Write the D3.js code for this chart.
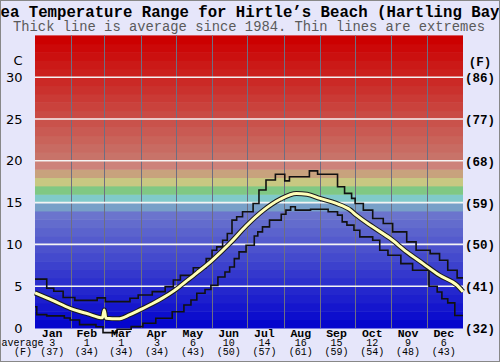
<!DOCTYPE html>
<html>
<head>
<meta charset="utf-8">
<script src="https://cdn.jsdelivr.net/npm/d3@7"></script>
<style>
  body { margin: 0; background: #e6e6fa; }
  svg { display: block; }
</style>
</head>
<body>
<div class="chart"></div>
<script>
// chart values
var months = ["Jan","Feb","Mar","Apr","May","Jun","Jul","Aug","Sep","Oct","Nov","Dec"];
var monthDays = [31,28,31,30,31,30,31,31,30,31,30,31];
var avgC = [3,1,1,3,6,10,14,16,15,12,9,6];
var avgF = [37,34,34,34,43,50,57,61,59,54,48,43];
var cTicks = [0,5,10,15,20,25,30];
var fLabels = [32,41,50,59,68,77,86];

// thick line: average, day of year -> deg C
var avgDays  = [0,15,30,45,57.5,59,60.5,71,81,90,100,109,119,129,138,151,166,180,195,209,223,232,243,257,269,274,288,303,317,331,345,360,365];
var avgTemps = [4.2,3.3,2.35,1.7,1.22,2.15,1.18,1.1,1.6,2.2,2.9,3.6,4.5,5.6,6.6,8.1,10.1,12.2,14.1,15.4,16.1,16.0,15.5,14.9,14.1,13.5,12.1,10.7,9.1,7.7,6.3,5.1,4.35];

// thin lines: extremes, stepped
var maxDays  = [0,10,16,24,34,53,60,81,88,100,111,118,124,135,146,151,155,160,164,168,172,177,186,191,197,205,213,217,234,241,258,264,270,273,280,288,297,305,317,325,337,345,352,360,365];
var maxTemps = [5.85,4.75,4.4,3.65,3.3,3.6,3.15,3.55,3.95,4.35,4.95,5.75,6.3,7.2,8.3,9.3,9.7,10.5,11.3,12.9,13.3,13.9,14.9,16.5,17.7,18.4,17.6,18.1,18.8,18.4,16.9,16.1,15.5,14.9,14.1,13.1,12.5,11.5,10.3,9.3,8.9,8.1,6.9,6.0,6.0];
var minDays  = [0,1.5,10,25,30,38,52,58,70,82,92,103,117,127,133,138,145,150,156,162,166,170,174,180,187,190,194,200,210,214,218,222,235,250,258,262,266,272,277,288,294,301,312,322,336,343,347,352,358,365];
var minTemps = [2.55,1.6,1.45,1.2,0.96,0.4,0.15,-0.55,-0.15,0.16,0.56,1.16,1.95,2.75,3.35,4.15,4.6,5.1,6.1,6.7,7.3,8.3,9.1,9.9,11.0,11.5,12.1,12.9,13.6,14.1,14.5,14.1,14.2,13.9,13.5,12.7,12.3,11.7,10.9,10.5,9.3,8.7,7.7,6.9,5.0,4.3,3.5,3.0,1.5,1.5];

var width = 500, height = 362;
var plot = {left: 35, right: 463, top: 35.4, bottom: 328};

var svg = d3.select(".chart").append("svg")
  .attr("width", width)
  .attr("height", height);

svg.append("rect")
  .attr("width", width).attr("height", height)
  .attr("fill", "#e6e6fa");

var x = d3.scaleLinear().domain([0, 365]).range([plot.left, plot.right]);
var y = d3.scaleLinear().domain([0, 35]).range([plot.bottom, plot.top]);

// band colours, one band per degree
var blueScale = d3.scaleLinear().domain([0, 14]).range(["rgb(5,5,205)", "rgb(115,125,205)"]);
var redScale = d3.scaleLinear().domain([21, 35]).range(["rgb(200,115,105)", "rgb(204,0,0)"]);
var midBands = {14: "rgb(120,160,200)", 15: "rgb(128,202,202)", 16: "rgb(128,200,132)",
                17: "rgb(200,200,130)", 18: "rgb(200,162,125)", 19: "rgb(205,130,122)"};
function bandColor(t) {
  if (t < 14) return blueScale(t);
  if (midBands[t]) return midBands[t];
  return redScale(t + 1);
}

svg.append("g").selectAll("rect")
  .data(d3.range(0, 35))
  .enter().append("rect")
    .attr("x", plot.left)
    .attr("width", plot.right - plot.left)
    .attr("y", function(d){ return y(d + 1); })
    .attr("height", function(d){ return y(d) - y(d + 1) + 0.5; })
    .attr("fill", function(d){ return bandColor(d); });

// month boundaries
var monthStarts = [0];
monthDays.forEach(function(n, i){ monthStarts.push(monthStarts[i] + n); });

svg.append("g").selectAll("line")
  .data(monthStarts.slice(1, 12))
  .enter().append("line")
    .attr("x1", function(d){ return Math.round(x(d)) + 0.5; })
    .attr("x2", function(d){ return Math.round(x(d)) + 0.5; })
    .attr("y1", plot.top)
    .attr("y2", plot.bottom)
    .attr("stroke", "rgb(110,110,130)")
    .attr("stroke-width", 1);

// white grid
svg.append("g").selectAll("line")
  .data(cTicks.slice(1))
  .enter().append("line")
    .attr("x1", plot.left)
    .attr("x2", plot.right)
    .attr("y1", function(d){ return y(d); })
    .attr("y2", function(d){ return y(d); })
    .attr("stroke", "#f4f4f4")
    .attr("stroke-width", 1.6);

// extremes
var stepLine = d3.line()
  .x(function(d){ return x(d[0]); })
  .y(function(d){ return y(d[1]); })
  .curve(d3.curveStepAfter);

[d3.zip(maxDays, maxTemps), d3.zip(minDays, minTemps)].forEach(function(pts){
  svg.append("path")
    .datum(pts)
    .attr("d", stepLine)
    .attr("fill", "none")
    .attr("stroke", "#111")
    .attr("stroke-width", 1.6);
});

// average
var avgLine = d3.line()
  .x(function(d){ return x(d[0]); })
  .y(function(d){ return y(d[1]); })
  .curve(d3.curveMonotoneX);
var avgPts = d3.zip(avgDays, avgTemps);

svg.append("path").datum(avgPts)
  .attr("d", avgLine)
  .attr("fill", "none")
  .attr("stroke", "#1a1a1a")
  .attr("stroke-width", 5);
svg.append("path").datum(avgPts)
  .attr("d", avgLine)
  .attr("fill", "none")
  .attr("stroke", "#ffffb8")
  .attr("stroke-width", 3);

// titles
svg.append("text")
  .attr("x", 250).attr("y", 17)
  .attr("text-anchor", "middle")
  .style("font", "bold 15.7px 'Liberation Mono', monospace")
  .attr("fill", "#000")
  .text("Sea Temperature Range for Hirtle\u2019s Beach (Hartling Bay)");

svg.append("text")
  .attr("x", 249).attr("y", 31)
  .attr("text-anchor", "middle")
  .style("font", "13.8px 'Liberation Mono', monospace")
  .attr("fill", "#5a5a5a")
  .text("Thick line is average since 1984. Thin lines are extremes");

// left axis (C)
var leftAxis = svg.append("g").style("font", "13px 'DejaVu Sans', sans-serif").attr("fill", "#000");
leftAxis.append("text").attr("x", 22.5).attr("y", 65).attr("text-anchor", "end").text("C");
leftAxis.selectAll(".tick")
  .data(cTicks)
  .enter().append("text")
    .attr("class", "tick")
    .attr("x", 22.5)
    .attr("y", function(d){ return y(d) + 4.6; })
    .attr("text-anchor", "end")
    .text(function(d){ return d; });

// right axis (F)
var rightAxis = svg.append("g").style("font", "bold 12.5px 'Liberation Mono', monospace").attr("fill", "#000");
rightAxis.append("text").attr("x", 480).attr("y", 66).attr("text-anchor", "middle").text("(F)");
rightAxis.selectAll(".tick")
  .data(cTicks)
  .enter().append("text")
    .attr("class", "tick")
    .attr("x", 480)
    .attr("y", function(d){ return y(d) + 5; })
    .attr("text-anchor", "middle")
    .text(function(d, i){ return "(" + fLabels[i] + ")"; });

// month labels and averages
var monthMid = months.map(function(m, i){ return monthStarts[i] + monthDays[i] / 2; });
var bottom = svg.append("g").attr("fill", "#000");
bottom.selectAll(".mname")
  .data(months)
  .enter().append("text")
    .attr("class", "mname")
    .attr("x", function(d, i){ return x(monthMid[i]) - 1; })
    .attr("y", 337)
    .attr("text-anchor", "middle")
    .style("font", "bold 11.5px 'Liberation Mono', monospace")
    .text(function(d){ return d; });
bottom.selectAll(".mc")
  .data(avgC)
  .enter().append("text")
    .attr("class", "mc")
    .attr("x", function(d, i){ return x(monthMid[i]) - 1; })
    .attr("y", 346)
    .attr("text-anchor", "middle")
    .style("font", "10px 'Liberation Mono', monospace")
    .text(function(d){ return d; });
bottom.selectAll(".mf")
  .data(avgF)
  .enter().append("text")
    .attr("class", "mf")
    .attr("x", function(d, i){ return x(monthMid[i]) - 1; })
    .attr("y", 355)
    .attr("text-anchor", "middle")
    .style("font", "10px 'Liberation Mono', monospace")
    .text(function(d){ return "(" + d + ")"; });
bottom.append("text").attr("x", 1.5).attr("y", 346)
  .style("font", "10px 'Liberation Mono', monospace")
  .text("average");
bottom.append("text").attr("x", 23).attr("y", 355)
  .attr("text-anchor", "middle")
  .style("font", "10px 'Liberation Mono', monospace")
  .text("(F)");

// outer frame
svg.append("rect")
  .attr("x", 0.5).attr("y", 0.5)
  .attr("width", width - 1).attr("height", height - 1)
  .attr("fill", "none")
  .attr("stroke", "#888");
</script>
</body>
</html>
